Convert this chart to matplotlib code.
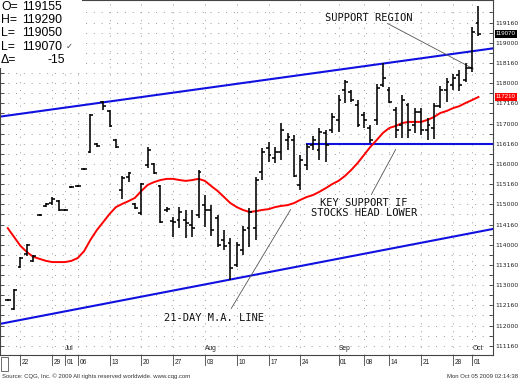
import matplotlib
matplotlib.use('Agg')
import matplotlib.pyplot as plt
import matplotlib.transforms as mtransforms
from matplotlib.ticker import FixedLocator, FuncFormatter
from matplotlib.patches import Rectangle
import numpy as np

# daily bars, Dec bond futures, Jun 18 - Oct 2 2009 (trading days only)
opens = [112.63, 112.41, 113.45, 113.77, 113.60, 114.74, 114.96, 115.03, 115.08, 114.86,
         115.43, 115.45, 115.87, 116.29, 116.49, 117.53, 117.31, 116.59, 115.35, 115.68,
         115.01, 114.79, 115.97, 116.00, 115.45, 114.86, 114.59, 114.61, 114.61, 114.49,
         114.74, 114.98, 114.86, 114.66, 114.12, 114.04, 113.50, 113.87, 114.41, 114.41,
         115.80, 116.39, 116.15, 116.29, 116.59, 116.59, 115.48, 115.97, 116.47, 116.34,
         116.77, 116.84, 117.09, 117.83, 117.78, 117.46, 117.21, 116.89, 117.09, 117.95,
         117.83, 117.33, 116.96, 117.46, 116.96, 117.29, 116.84, 116.89, 117.43, 117.83,
         117.95, 118.20, 118.08, 118.37, 119.484375]
highs = [112.65, 112.90, 113.70, 114.02, 113.75, 114.76, 115.03, 115.18, 115.11, 114.88,
         115.45, 115.48, 115.90, 117.24, 116.52, 117.56, 117.33, 116.62, 115.70, 115.80,
         115.03, 115.53, 116.42, 116.02, 115.48, 114.93, 114.69, 114.93, 114.86, 114.86,
         115.85, 115.23, 114.98, 114.74, 114.36, 114.17, 114.07, 114.46, 114.91, 115.68,
         116.39, 116.54, 116.42, 117.01, 116.77, 116.72, 116.22, 116.49, 116.69, 116.89,
         116.84, 117.26, 117.71, 118.08, 117.83, 117.58, 117.29, 116.96, 117.98, 118.50,
         117.90, 117.41, 117.71, 117.51, 117.38, 117.38, 117.14, 117.51, 117.93, 118.13,
         118.23, 118.32, 118.50, 119.39, 119.90625]
lows = [112.61, 112.38, 113.42, 113.72, 113.57, 114.71, 114.93, 114.98, 114.83, 114.83,
        115.40, 115.43, 115.85, 116.27, 116.42, 117.33, 116.91, 116.39, 115.13, 115.55,
        114.88, 114.74, 115.90, 115.75, 114.54, 114.81, 114.19, 114.41, 114.17, 114.19,
        114.66, 114.44, 114.22, 113.94, 113.87, 113.13, 113.45, 113.75, 113.94, 114.12,
        115.60, 116.05, 116.02, 116.10, 116.34, 115.68, 115.35, 115.85, 116.34, 116.10,
        116.05, 116.77, 116.79, 117.51, 117.53, 116.91, 116.89, 116.52, 116.96, 117.90,
        117.51, 116.64, 116.64, 116.64, 116.77, 116.72, 116.59, 116.62, 117.38, 117.53,
        117.83, 117.80, 118.03, 118.28, 119.15625]
closes = [112.63, 112.88, 113.67, 113.99, 113.72, 114.74, 115.01, 115.13, 114.86, 114.86,
          115.43, 115.45, 115.87, 117.21, 116.44, 117.43, 116.94, 116.42, 115.65, 115.77,
          114.91, 115.50, 116.34, 115.77, 114.56, 114.88, 114.56, 114.81, 114.54, 114.41,
          115.80, 114.86, 114.36, 113.99, 113.97, 113.42, 113.99, 114.36, 114.81, 115.60,
          116.29, 116.22, 116.29, 116.84, 116.67, 115.70, 116.10, 116.42, 116.59, 116.79,
          116.47, 117.16, 117.58, 118.03, 117.58, 116.96, 117.09, 116.59, 117.88, 118.13,
          117.53, 116.84, 117.58, 116.84, 117.29, 116.84, 116.96, 117.43, 117.83, 118.03,
          118.13, 117.95, 118.37, 119.265625, 119.21875]
ma21 = [114.41, 114.19, 113.97, 113.82, 113.70, 113.65, 113.60, 113.57, 113.57, 113.57,
        113.60, 113.67, 113.84, 114.12, 114.36, 114.56, 114.76, 114.93, 115.01, 115.08,
        115.16, 115.33, 115.48, 115.55, 115.60, 115.63, 115.63, 115.60, 115.58, 115.60,
        115.63, 115.58, 115.45, 115.33, 115.18, 115.03, 114.93, 114.86, 114.81, 114.83,
        114.86, 114.88, 114.93, 114.96, 114.98, 115.03, 115.11, 115.18, 115.23, 115.31,
        115.40, 115.50, 115.58, 115.70, 115.85, 116.02, 116.22, 116.42, 116.59, 116.77,
        116.89, 116.94, 117.01, 117.04, 117.04, 117.04, 117.09, 117.16, 117.26, 117.31,
        117.38, 117.43, 117.51, 117.58, 117.65625]

first_day = -2  # Jun 18 is two sessions before Jun 22

# x axis: session index, Jun 22 = 0
tick_pos = [0, 5, 7, 9, 14, 19, 24, 29, 34, 39, 44, 50, 54, 58, 63, 68, 71]
tick_labels = ['22', '29', '01', '06', '13', '20', '27', '03', '10', '17', '24',
               '01', '08', '14', '21', '28', '01']
month_pos = [7, 29, 50, 71]
month_labels = ['Jul', 'Aug', 'Sep', 'Oct']

# trend channel and support (session index, price)
upper_x = [-3.22, 74.29]
upper_y = [117.17, 118.86]
lower_x = [-3.22, 74.29]
lower_y = [112.04, 114.39]
support_x = [45.0, 74.29]
support_level = 116.5


def cqg(p):
    whole = int(p)
    tenths = int(round((p - whole) * 320))
    return f'{whole}{tenths:03d}'


W, H = 520, 382
fig = plt.figure(figsize=(W / 100, H / 100), dpi=100)
fig.patch.set_facecolor('white')
ax = fig.add_axes([0, 27 / H, 493 / W, 355 / H])

idx = np.arange(len(opens)) + first_day
ax.set_xlim(-3.22, 74.29)
ax.set_ylim(111.27, 120.057)

# grid
grid_kw = dict(color='#9a9a9a', lw=0.7, dashes=(1, 7), zorder=0)
for p in np.arange(111.5, 120.0, 0.25):
    ax.axhline(p, **grid_kw)
for t in tick_pos:
    ax.axvline(t, **grid_kw)

# channel lines
ax.plot(upper_x, upper_y, color='#1010e0', lw=1.5, zorder=2)
ax.plot(lower_x, lower_y, color='#1010e0', lw=1.5, zorder=2)
ax.plot(support_x, [support_level] * 2, color='#1010e0', lw=1.5, zorder=2)

# 21-day MA
ax.plot(idx, ma21, color='#ff0000', lw=1.4, zorder=3)

# OHLC bars
bar_kw = dict(color='black', lw=1.15, zorder=4)
ax.vlines(idx, lows, highs, **bar_kw)
ax.hlines(opens, idx - 0.45, idx, **bar_kw)
ax.hlines(closes, idx, idx + 0.45, **bar_kw)

# price axis on the right
ax.yaxis.tick_right()
ax.yaxis.set_major_locator(FixedLocator(np.arange(111.5, 119.6, 0.5)))
ax.yaxis.set_minor_locator(FixedLocator(np.arange(111.25, 120.0, 0.25)))
ax.yaxis.set_major_formatter(FuncFormatter(lambda v, pos: cqg(v)))
ax.tick_params(axis='y', which='both', direction='in', length=3, width=0.6,
               left=True, right=True, color='#333333')
ax.tick_params(axis='y', which='major', labelsize=4.4, pad=1.5, labelcolor='#222222')
ax.set_xticks([])
for s in ax.spines.values():
    s.set_color('#444444')
    s.set_linewidth(0.8)

# date row under the chart
bt = mtransforms.blended_transform_factory(ax.transData, ax.transAxes)
for t, lab in zip(tick_pos, tick_labels):
    ax.plot([t, t], [0, -0.028], transform=bt, color='#444444', lw=0.6, clip_on=False)
    ax.text(t + 0.25, -0.022, lab, transform=bt, fontsize=4.8, family='Liberation Sans',
            ha='left', va='center', color='#222222', clip_on=False)
for t, lab in zip(month_pos, month_labels):
    ax.text(t + 0.05, 0.018, lab, transform=bt, fontsize=4.8, family='Liberation Sans',
            ha='left', va='center', color='#222222')
fig.patches.append(Rectangle((0.5 / W, 1 - 371 / H), 7 / W, 14 / H, transform=fig.transFigure,
                             fill=False, edgecolor='#555555', lw=0.6))

# highlighted values on price axis
rt = mtransforms.blended_transform_factory(fig.transFigure, ax.transData)
fig.text(506 / W, closes[-1], cqg(closes[-1]), transform=rt, fontsize=4.4,
         family='Liberation Sans', color='white', ha='center', va='center',
         bbox=dict(boxstyle='square,pad=0.25', fc='black', ec='none'))
fig.text(506 / W, ma21[-1], cqg(ma21[-1]), transform=rt, fontsize=4.4,
         family='Liberation Sans', color='white', ha='center', va='center',
         bbox=dict(boxstyle='square,pad=0.25', fc='#ff0000', ec='none'))

# annotations
note_kw = dict(family='DejaVu Sans Mono', fontsize=7.5, color='#111111', zorder=6)
line_kw = dict(arrowstyle='-', color='#555555', lw=0.6)
ax.text(47.9, 119.62, 'SUPPORT REGION', ha='left', va='center', **note_kw)
ax.annotate('', xy=(71.6, 118.32), xytext=(57.3, 119.51), arrowprops=line_kw)
ax.text(54.0, 114.91, 'KEY SUPPORT IF\nSTOCKS HEAD LOWER', ha='center', va='center',
        linespacing=1.0, **note_kw)
ax.annotate('', xy=(59.2, 116.42), xytext=(54.95, 115.18), arrowprops=line_kw)
ax.text(30.4, 112.19, '21-DAY M.A. LINE', ha='center', va='center', **note_kw)
ax.annotate('', xy=(42.7, 114.93), xytext=(32.9, 112.36), arrowprops=line_kw)

# quote box, top left
fig.patches.append(Rectangle((0, 1 - 68 / H), 82 / W, 68 / H, transform=fig.transFigure,
                             fc='white', ec='none', zorder=5))
delta = int(round((closes[-1] - closes[-2]) * 320))
rows = [('O=', cqg(opens[-1])), ('H=', cqg(highs[-1])), ('L=', cqg(lows[-1])),
        ('L=', cqg(closes[-1]))]
for k, (a, b) in enumerate(rows):
    yy = 1 - (6.5 + 13.4 * k) / H
    fig.text(1 / W, yy, a, fontsize=8.8, family='Liberation Sans', va='center', zorder=6)
    fig.text(22 / W, yy, b, fontsize=8.8, family='Liberation Sans', va='center', zorder=6)
fig.text(66 / W, 1 - 46.5 / H, '\u2713', fontsize=6, family='DejaVu Sans', va='center',
         color='#444444', zorder=6)
fig.text(1 / W, 1 - 60 / H, '\u0394=', fontsize=8.8, family='Liberation Sans', va='center', zorder=6)
fig.text(65 / W, 1 - 60 / H, str(delta), fontsize=8.8, family='Liberation Sans', va='center',
         ha='right', zorder=6)

# footer
fig.text(2 / W, 1 - 376 / H, 'Source: CQG, Inc. \u00a9 2009 All rights reserved worldwide. www.cqg.com',
         fontsize=4.3, family='Liberation Sans', va='center', color='#333333')
fig.text(518 / W, 1 - 376 / H, 'Mon Oct 05 2009 02:14:38', fontsize=4.3,
         family='Liberation Sans', va='center', ha='right', color='#333333')

fig.savefig('out.png', dpi=100)
